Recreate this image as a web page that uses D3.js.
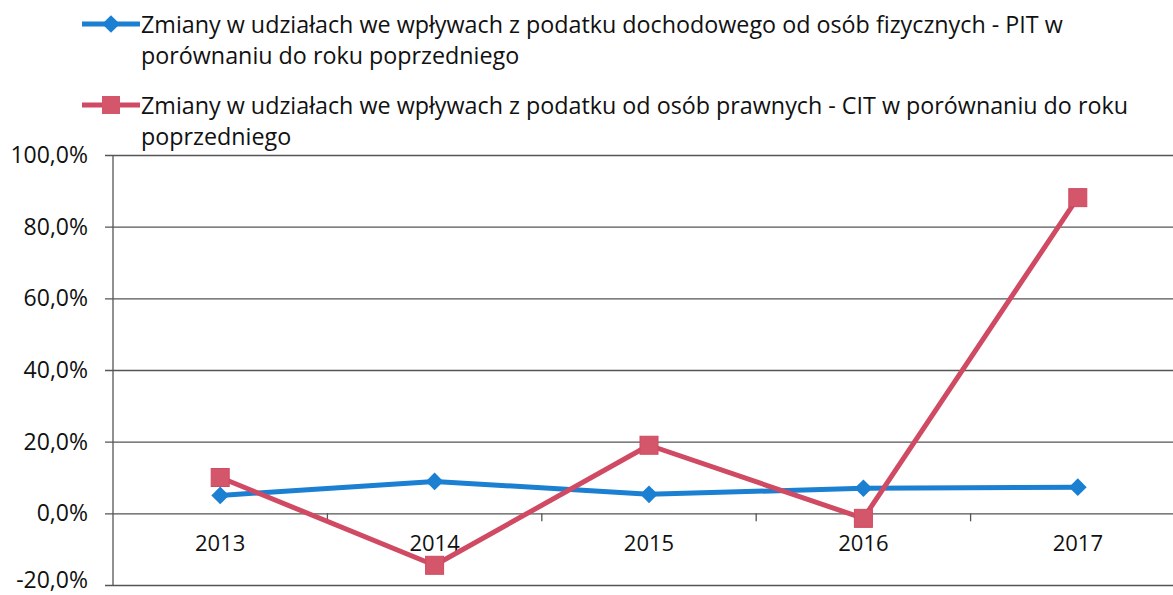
<!DOCTYPE html>
<html>
<head>
<meta charset="utf-8">
<script src="https://cdn.jsdelivr.net/npm/d3@7"></script>
<style>
  body { margin: 0; background: #fff; }
  svg { display: block; }
  svg text { font-family: "Open Sans", Lato, sans-serif; }
</style>
</head>
<body>
<svg></svg>
<script>
const years = ['2013', '2014', '2015', '2016', '2017'];
const pitValues = [5.0, 8.9, 5.3, 7.0, 7.3];
const citValues = [10.0, -14.5, 19.0, -1.4, 88.1];
const yTicks = [-20, 0, 20, 40, 60, 80, 100];
const legendLabels = [
    ['Zmiany w udziałach we wpływach z podatku dochodowego od osób fizycznych - PIT w', 'porównaniu do roku poprzedniego'],
    ['Zmiany w udziałach we wpływach z podatku od osób prawnych - CIT w porównaniu do roku', 'poprzedniego']
];

const [width, height] = [1173, 595];
const margin = { top: 155, right: -12, bottom: 10, left: 113 };
const blue = '#1b7fd2', red = '#cf4a62';
const fontSize = 23;

const svg = d3.select('svg')
    .attr('width', width)
    .attr('height', height);

const xScale = d3.scaleBand()
    .domain(years)
    .range([margin.left, width - margin.right]);

const yScale = d3.scaleLinear()
    .domain([-20, 100])
    .range([585, margin.top]);

// siatka + oś Y
const yAxis = d3.axisLeft(yScale)
    .tickValues(yTicks)
    .tickSize(-(width - margin.left + 20))
    .tickPadding(25)
    .tickFormat(d => d3.format('.1f')(d).replace('.', ',').replace('−', '-') + '%');

svg.append('g')
    .attr('transform', `translate(${margin.left},0)`)
    .call(yAxis)
    .attr('font-family', null)
    .call(g => g.select('.domain').remove())
    .call(g => g.selectAll('.tick line')
        .attr('x1', -8)
        .attr('stroke', '#555')
        .attr('stroke-width', 1.3))
    .call(g => g.selectAll('.tick text')
        .attr('fill', '#111')
        .attr('font-size', fontSize)
        .attr('dy', d => d === -20 ? '0.1em' : '0.32em'));

svg.append('line')
    .attr('x1', margin.left).attr('x2', margin.left)
    .attr('y1', yScale(100)).attr('y2', yScale(-20))
    .attr('stroke', '#555').attr('stroke-width', 1.3);

// oś X na wysokości 0
const xAxis = d3.axisBottom(xScale)
    .tickSize(0)
    .tickPadding(22);

svg.append('g')
    .attr('transform', `translate(0,${yScale(0)})`)
    .call(xAxis)
    .attr('font-family', null)
    .call(g => g.select('.domain').remove())
    .call(g => g.selectAll('.tick text')
        .attr('fill', '#111')
        .attr('font-size', fontSize - 1));

svg.append('g')
    .selectAll('line')
    .data(years.slice(1))
    .join('line')
    .attr('x1', d => xScale(d)).attr('x2', d => xScale(d))
    .attr('y1', yScale(0)).attr('y2', yScale(0) + 8)
    .attr('stroke', '#555').attr('stroke-width', 1.3);

const cx = d => xScale(d) + xScale.bandwidth() / 2;

const line = d3.line()
    .x((d, i) => cx(years[i]))
    .y(d => yScale(d));

const diamond = d3.symbol().type(d3.symbolDiamond2).size(200);

// PIT
svg.append('path')
    .datum(pitValues)
    .attr('fill', 'none')
    .attr('stroke', blue)
    .attr('stroke-width', 5)
    .attr('stroke-linejoin', 'round')
    .attr('d', line);

svg.append('g')
    .selectAll('path')
    .data(pitValues)
    .join('path')
    .attr('transform', (d, i) => `translate(${cx(years[i])},${yScale(d)})`)
    .attr('d', diamond)
    .attr('fill', blue);

// CIT
svg.append('path')
    .datum(citValues)
    .attr('fill', 'none')
    .attr('stroke', red)
    .attr('stroke-width', 5)
    .attr('stroke-linejoin', 'round')
    .attr('d', line);

svg.append('g')
    .selectAll('rect')
    .data(citValues)
    .join('rect')
    .attr('x', (d, i) => cx(years[i]) - 9)
    .attr('y', d => yScale(d) - 9)
    .attr('width', 18)
    .attr('height', 18)
    .attr('fill', '#d4566b')
    .attr('stroke', red)
    .attr('stroke-width', 1);

// legenda
const legendRows = [
    { y: 24, color: blue, marker: 'diamond' },
    { y: 105, color: red, marker: 'square' }
];

legendRows.forEach((row, i) => {
    const g = svg.append('g');
    g.append('line')
        .attr('x1', 82).attr('x2', 140)
        .attr('y1', row.y).attr('y2', row.y)
        .attr('stroke', row.color).attr('stroke-width', 5);
    if (row.marker === 'diamond') {
        g.append('path')
            .attr('transform', `translate(111,${row.y})`)
            .attr('d', diamond)
            .attr('fill', row.color);
    } else {
        g.append('rect')
            .attr('x', 102).attr('y', row.y - 9)
            .attr('width', 18).attr('height', 18)
            .attr('fill', '#d4566b');
    }
    g.selectAll('text')
        .data(legendLabels[i])
        .join('text')
        .attr('x', 141)
        .attr('y', (d, j) => row.y + 9 + j * 31)
        .attr('font-size', 23.3)
        .attr('fill', '#111')
        .text(d => d);
});
</script>
</body>
</html>
